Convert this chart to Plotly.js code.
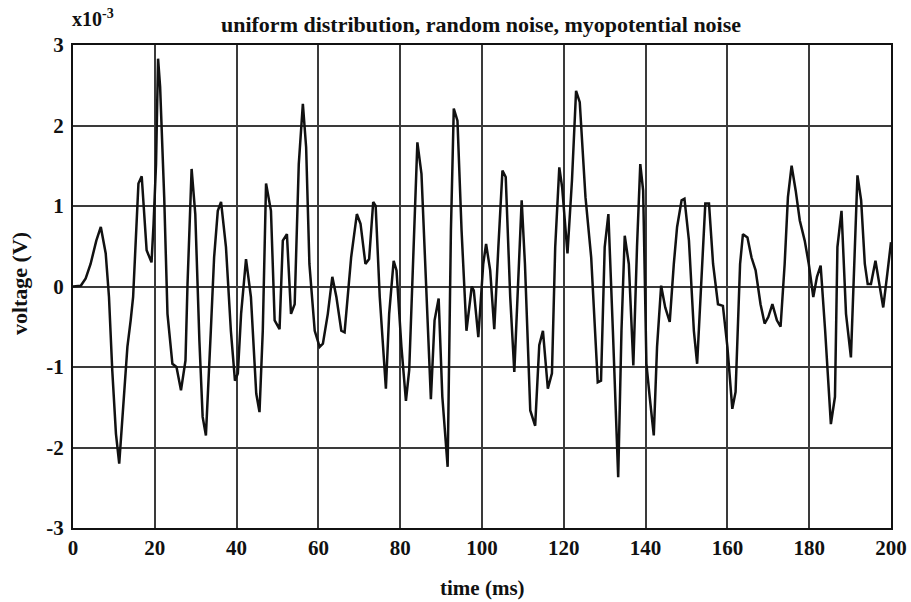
<!DOCTYPE html>
<html>
<head>
<meta charset="utf-8">
<script src="https://cdn.plot.ly/plotly-2.35.2.min.js"></script>
<style>html,body{margin:0;padding:0;background:#fff;}#chart{width:911px;height:602px;}</style>
</head>
<body>
<div id="chart"></div>
<script>
// time in ms
var timeMs = [0,1.9,3.1,4.3,5.7,6.8,8.0,8.8,9.6,10.5,11.3,12.5,13.3,14.1,14.7,16.0,16.8,18.0,19.2,19.7,20.3,20.8,21.3,22.3,23.1,24.3,25.3,26.4,27.5,28.0,29.0,29.9,30.9,31.7,32.5,33.7,34.5,35.4,36.2,37.4,38.6,39.6,40.3,41.1,42.3,43.5,44.8,45.6,46.4,47.2,48.4,49.3,50.5,51.3,52.3,53.3,54.2,55.2,56.2,57.0,57.8,59.1,60.3,61.1,62.3,63.4,64.4,65.6,66.4,68.0,69.4,70.3,71.5,72.4,73.4,74.0,75.0,76.5,77.3,78.4,79.1,80.3,81.4,82.2,83.2,84.2,85.2,86.4,87.5,88.4,89.4,90.3,91.6,92.4,93.1,94.0,95.0,96.2,97.5,98.0,99.1,100.3,101.0,102.0,103.0,104.0,105.0,105.8,106.9,107.9,108.7,109.7,110.5,111.8,113.0,114.0,114.9,116.1,117.1,117.9,118.9,119.6,120.9,122.0,123.0,123.9,125.3,126.7,128.3,129.1,130.0,130.9,132.0,133.3,134.1,134.9,135.9,137.0,137.9,138.7,139.4,140.2,141.0,142.0,142.8,143.8,144.8,145.9,146.9,147.7,148.8,149.5,150.6,151.8,152.6,153.8,154.6,155.5,156.5,157.7,158.9,160.0,161.2,162.0,163.1,163.8,164.9,165.9,166.9,168.1,169.1,170.0,171.0,172.1,173.0,174.0,174.8,175.7,176.7,177.7,178.9,179.9,181.0,181.9,182.8,183.9,185.3,186.3,186.9,187.9,189.0,190.2,191.2,191.8,192.7,193.6,194.3,195.1,196.2,197.1,198.1,199.1,200.0];
// voltage in units of 1e-3 V
var voltage = [0,0.01,0.1,0.28,0.57,0.74,0.41,-0.13,-1.04,-1.83,-2.2,-1.37,-0.75,-0.42,-0.13,1.28,1.37,0.45,0.3,0.78,1.52,2.83,2.48,1.11,-0.34,-0.96,-1.0,-1.29,-0.92,0.03,1.46,0.9,-0.67,-1.62,-1.85,-0.55,0.36,0.94,1.05,0.49,-0.55,-1.17,-1.08,-0.34,0.34,-0.13,-1.33,-1.56,-0.55,1.28,0.94,-0.42,-0.53,0.57,0.65,-0.34,-0.22,1.52,2.27,1.73,0.28,-0.55,-0.75,-0.71,-0.34,0.12,-0.13,-0.55,-0.57,0.36,0.9,0.78,0.28,0.34,1.05,1.0,-0.13,-1.27,-0.34,0.32,0.2,-0.75,-1.42,-1.04,0.49,1.79,1.4,-0.13,-1.4,-0.42,-0.15,-1.37,-2.24,0.7,2.21,2.06,0.7,-0.55,0.0,-0.05,-0.63,0.28,0.53,0.2,-0.53,0.49,1.44,1.36,-0.13,-1.06,-0.13,1.07,0.28,-1.54,-1.73,-0.73,-0.55,-1.27,-1.08,0.49,1.48,1.23,0.41,1.32,2.43,2.29,1.11,0.36,-1.19,-1.17,0.49,0.9,-0.55,-2.37,-0.55,0.63,0.28,-0.98,0.49,1.52,1.19,-0.96,-1.37,-1.85,-0.75,0.01,-0.26,-0.44,0.28,0.74,1.07,1.09,0.57,-0.55,-0.96,0.28,1.03,1.03,0.28,-0.22,-0.24,-0.75,-1.52,-1.31,0.28,0.65,0.61,0.36,0.2,-0.22,-0.46,-0.38,-0.22,-0.42,-0.5,0.28,1.11,1.5,1.19,0.82,0.57,0.28,-0.13,0.12,0.26,-0.55,-1.71,-1.37,0.49,0.94,-0.34,-0.88,0.49,1.38,1.07,0.28,0.03,0.03,0.32,0.03,-0.26,0.16,0.55];
var xTicks = [0,20,40,60,80,100,120,140,160,180,200];
var yTicks = [-3,-2,-1,0,1,2,3];

var serif = '"Liberation Serif", "DejaVu Serif", serif';
var trace = {x: timeMs, y: voltage, type: 'scatter', mode: 'lines',
  line: {color: '#111', width: 2.5}, hoverinfo: 'none'};
var layout = {
  width: 911, height: 602,
  margin: {l: 73, r: 20, t: 45, b: 74},
  paper_bgcolor: '#fff', plot_bgcolor: '#fff',
  showlegend: false,
  title: {text: 'uniform distribution, random noise, myopotential noise',
    font: {family: serif, size: 22, color: '#111', weight: 'bold'}, x: 0.528, xanchor: 'center', y: 0.96, yanchor: 'middle'},
  xaxis: {range: [0, 200], tickvals: xTicks, ticktext: xTicks.map(String),
    showgrid: true, gridcolor: '#3a3a3a', gridwidth: 2, zeroline: false,
    showline: true, mirror: true, linecolor: '#111', linewidth: 2, ticks: '',
    tickfont: {family: serif, size: 21, color: '#111', weight: 'bold'}},
  yaxis: {range: [-3, 3], tickvals: yTicks, ticktext: yTicks.map(String),
    showgrid: true, gridcolor: '#3a3a3a', gridwidth: 2, zeroline: false,
    showline: true, mirror: true, linecolor: '#111', linewidth: 2, ticks: '',
    ticklabelstandoff: 3,
    tickfont: {family: serif, size: 21, color: '#111', weight: 'bold'}},
  annotations: [
    {text: 'x10<sup>-3</sup>', xref: 'paper', yref: 'paper', x: -0.004, y: 1.055,
      xanchor: 'left', yanchor: 'middle', showarrow: false,
      font: {family: serif, size: 20, color: '#111', weight: 'bold'}},
    {text: 'time (ms)', xref: 'paper', yref: 'paper', x: 0.5, y: -0.125,
      xanchor: 'center', yanchor: 'middle', showarrow: false,
      font: {family: serif, size: 21, color: '#111', weight: 'bold'}},
    {text: 'voltage (V)', xref: 'paper', yref: 'paper', x: -0.066, y: 0.505, textangle: -90,
      xanchor: 'center', yanchor: 'middle', showarrow: false,
      font: {family: serif, size: 22, color: '#111', weight: 'bold'}}
  ]
};
Plotly.newPlot('chart', [trace], layout, {displayModeBar: false, staticPlot: true});
</script>
</body>
</html>
